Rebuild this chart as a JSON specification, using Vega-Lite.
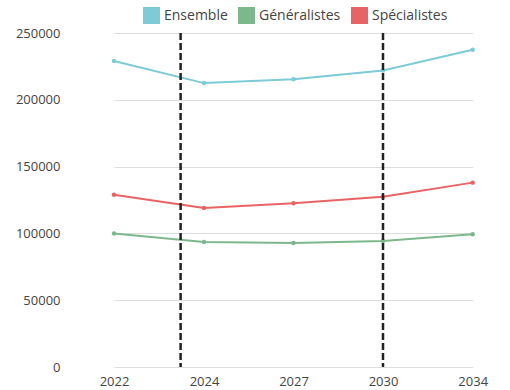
{
  "$schema": "https://vega.github.io/schema/vega-lite/v6.json",
  "width": 440,
  "height": 334,
  "autosize": {"type": "none"},
  "padding": {"left": 70, "top": 33, "right": 0, "bottom": 23},
  "config": {
    "view": {"stroke": null},
    "font": "Open Sans",
    "axis": {"labelFont": "Open Sans", "labelColor": "#444", "labelFontSize": 13, "domain": false, "ticks": false, "gridColor": "#dddddd", "gridWidth": 1},
    "legend": {"labelFont": "Open Sans", "labelColor": "#444", "labelFontSize": 14}
  },
  "layer": [
    {
      "data": {"values": [
        {"annee": 2022, "serie": "Ensemble", "valeur": 229000},
        {"annee": 2024, "serie": "Ensemble", "valeur": 212500},
        {"annee": 2027, "serie": "Ensemble", "valeur": 215300},
        {"annee": 2030, "serie": "Ensemble", "valeur": 222000},
        {"annee": 2034, "serie": "Ensemble", "valeur": 237500},
        {"annee": 2022, "serie": "Généralistes", "valeur": 100000},
        {"annee": 2024, "serie": "Généralistes", "valeur": 93500},
        {"annee": 2027, "serie": "Généralistes", "valeur": 92800},
        {"annee": 2030, "serie": "Généralistes", "valeur": 94300},
        {"annee": 2034, "serie": "Généralistes", "valeur": 99300},
        {"annee": 2022, "serie": "Spécialistes", "valeur": 129000},
        {"annee": 2024, "serie": "Spécialistes", "valeur": 119000},
        {"annee": 2027, "serie": "Spécialistes", "valeur": 122500},
        {"annee": 2030, "serie": "Spécialistes", "valeur": 127500},
        {"annee": 2034, "serie": "Spécialistes", "valeur": 138000}
      ]},
      "mark": {"type": "line", "strokeWidth": 2, "point": {"filled": true, "size": 20}},
      "encoding": {
        "x": {
          "field": "annee", "type": "quantitative",
          "scale": {"domain": [2022, 2024, 2027, 2030, 2034], "range": [44, 134, 223.5, 313, 402.7]},
          "axis": {"values": [2022, 2024, 2027, 2030, 2034], "format": "d", "grid": false, "title": null, "labelPadding": 8, "labelFlush": false}
        },
        "y": {
          "field": "valeur", "type": "quantitative",
          "scale": {"domain": [0, 250000]},
          "axis": {"values": [0, 50000, 100000, 150000, 200000, 250000], "format": "d", "title": null, "labelPadding": 10}
        },
        "color": {
          "field": "serie", "type": "nominal",
          "scale": {"domain": ["Ensemble", "Généralistes", "Spécialistes"], "range": ["#7ccbd6", "#7db88c", "#e86464"]},
          "legend": {"orient": "none", "legendX": 73, "legendY": -26, "direction": "horizontal", "title": null, "symbolType": "square", "symbolSize": 289, "symbolStrokeWidth": 0, "symbolOpacity": 1, "labelOffset": 4, "columnPadding": 10}
        }
      }
    },
    {
      "data": {"values": [{"annee": 2023.48}, {"annee": 2030}]},
      "mark": {"type": "rule", "color": "#222", "strokeWidth": 2.5, "strokeDash": [7, 3]},
      "encoding": {"x": {"field": "annee", "type": "quantitative"}}
    }
  ]
}
